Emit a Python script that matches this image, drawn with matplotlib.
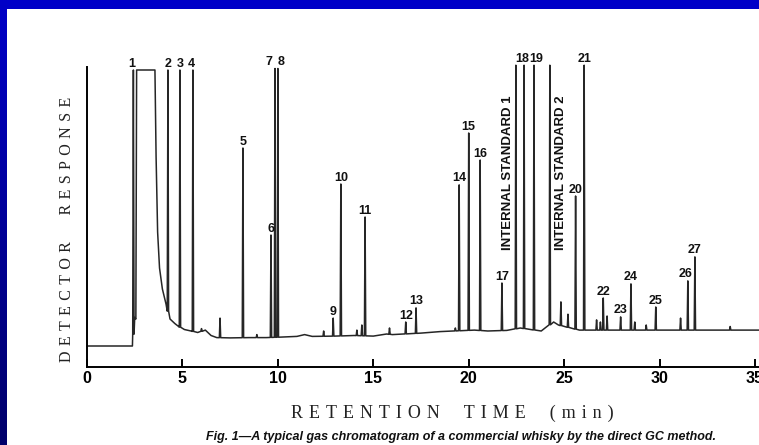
import numpy as np
import matplotlib
matplotlib.use('Agg')
import matplotlib.pyplot as plt
from matplotlib.patches import Rectangle

# trace baseline incl. solvent front (min, response)
base_t = [0, 2.38, 2.50, 2.56, 2.60, 3.56, 3.62, 3.70, 3.80, 3.95, 4.14,
          4.35, 4.60, 4.80, 5.10, 5.45, 5.80, 6.20, 6.50, 6.80, 7.50, 8.50,
          9.40, 10.30, 11.00, 11.40, 11.80, 13.00, 14.00, 15.00, 15.70, 16.00,
          17.50, 18.50, 19.20, 20.30, 21.00, 22.00, 22.70, 23.80, 24.45, 24.70,
          25.80, 26.40, 27.50, 29.00, 30.50, 32.20, 35.20]
base_r = [7, 7, 16.5, 16, 99, 99, 70, 45, 33, 26, 21,
          16, 14.5, 13.5, 12.5, 12, 11.5, 12.3, 10.5, 9.8, 9.7, 9.8,
          9.8, 10, 10.2, 10.8, 10.2, 10.3, 10.5, 10.3, 11, 10.8,
          11.3, 11.8, 12, 12.3, 12, 12.2, 13, 12, 15, 14,
          12.3, 12.3, 12.3, 12.3, 12.3, 12.3, 12.3]

peak_labels = ['1', '2', '3', '4', '5', '6', '7', '8', '9', '10', '11', '12',
               '13', '14', '15', '16', '17', '18', '19', '20', '21', '22',
               '23', '24', '25', '26', '27']
peak_times = [2.43, 4.24, 4.87, 5.55, 8.17, 9.64, 9.85, 10.0, 12.9, 13.3,
              14.57, 16.7, 17.24, 19.5, 20.0, 20.6, 21.74, 22.9, 23.42, 25.6,
              26.05, 27.05, 27.96, 28.5, 29.8, 31.48, 31.85]
peak_heights = [99, 99, 99, 99, 73, 44, 99.5, 99.5, 16.3, 61, 50, 15, 19.7,
                60.7, 78, 69, 28, 100.6, 100.6, 57, 100.6, 23, 16.7, 27.7, 20,
                28.7, 36.7]

std_labels = ['INTERNAL STANDARD 1', 'INTERNAL STANDARD 2']
std_times = [22.47, 24.25]
std_heights = [100.6, 100.6]

minor_times = [6.0, 6.97, 8.9, 12.4, 14.14, 14.4, 15.85, 19.3, 24.83, 25.2,
               26.7, 26.9, 27.25, 28.7, 29.3, 31.1, 33.7]
minor_heights = [12.8, 16.3, 10.8, 12, 12.3, 14, 13, 13, 21.7, 17.6,
                 15.7, 15, 17, 15, 14, 16.3, 13.5]

x_ticks = [0, 5, 10, 15, 20, 25, 30, 35]

# label nudges (min) where the number sits off the peak
nudge = {'1': -0.07, '4': -0.1, '7': -0.31, '8': 0.16, '18': -0.12,
         '19': 0.1, '20': 0.0, '26': -0.1}

W, H = 759, 445
sans = 'Liberation Sans'
serif = ['Liberation Serif', 'DejaVu Serif']

fig = plt.figure(figsize=(W / 100, H / 100), dpi=100)
fig.patch.set_facecolor('#0000c8')

# left strip gradient + white panel
bg = fig.add_axes([0, 0, 7 / W, 1], zorder=-3)
grad = np.linspace(0, 1, 256).reshape(-1, 1)
bg.imshow(grad, aspect='auto', cmap=matplotlib.colors.LinearSegmentedColormap.from_list(
    'b', ['#0000c8', '#00006a']), extent=(0, 1, 0, 1))
bg.axis('off')
fig.add_artist(Rectangle((7 / W, 0), 1, 1 - 9 / H, transform=fig.transFigure,
                         facecolor='white', edgecolor='none', zorder=-2))

px_min = 668 / 35
ax = fig.add_axes([87 / W, 78 / H, 35.2 * px_min / W, 315 / H])
ax.patch.set_visible(False)
ax.set_xlim(0, 35.2)
ax.set_ylim(0, 105)

# build trace: baseline + narrow spikes for every peak
pts = list(zip(base_t, base_r))
w = 0.035
for t, h in zip(peak_times + std_times + minor_times,
                peak_heights + std_heights + minor_heights):
    b = np.interp(t, base_t, base_r)
    pts += [(t - w, b), (t, h), (t + w, b)]
pts.sort()
tt, rr = zip(*pts)
ax.plot(tt, rr, color='#262626', lw=1.1, clip_on=False)

for lbl, t, h in zip(peak_labels, peak_times, peak_heights):
    ax.annotate(lbl, (t + nudge.get(lbl, 0), h), xytext=(0, 2.5),
                textcoords='offset points', ha='center', va='baseline',
                fontsize=9, fontweight='bold', family=sans, color='#111')

for lbl, t in zip(std_labels, std_times):
    ax.text(t - 0.4 if lbl.endswith('1') else t + 0.58, 39, lbl, rotation=90,
            ha='center', va='bottom', fontsize=9.5, fontweight='bold',
            family=sans, color='#111')

for s in ['top', 'right']:
    ax.spines[s].set_visible(False)
ax.spines['left'].set_bounds(0, 100)
ax.spines['left'].set_linewidth(1.4)
ax.spines['bottom'].set_linewidth(1.4)
ax.set_yticks([])
ax.set_xticks(x_ticks)
ax.set_xticklabels([str(v) for v in x_ticks], fontsize=11.5, fontweight='bold',
                   family=sans)
ax.tick_params(axis='x', direction='in', length=6, width=1.4, pad=3)

gap = '\u2004'
word = '\u2004\u2003'
fig.text(452 / W, 1 - 413 / H,
         word.join(gap.join(p) for p in ['RETENTION', 'TIME', '(min)']),
         ha='center', va='center', fontsize=13, family=serif, color='#222')
fig.text(67 / W, 1 - 229 / H,
         '\u2004\u2003\u2004'.join(gap.join(p) for p in ['DETECTOR', 'RESPONSE']),
         rotation=90, ha='center', va='center', fontsize=11.5,
         family=serif, color='#222')
fig.text(461 / W, 1 - 437 / H,
         'Fig. 1\u2014A typical gas chromatogram of a commercial whisky by the direct GC method.',
         ha='center', va='center', fontsize=9, style='italic', fontweight='bold',
         family=sans, color='#111')

fig.savefig('out.png', dpi=100)
